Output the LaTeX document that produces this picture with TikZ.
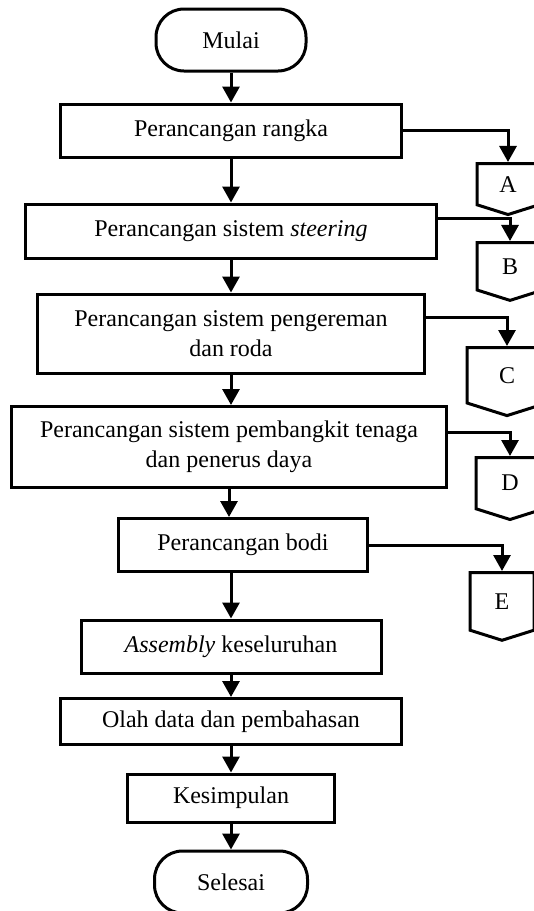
\documentclass[tikz,border=0pt]{standalone}
\usepackage{fontspec}
\setmainfont{Liberation Serif}
\usetikzlibrary{arrows.meta,shapes.symbols,calc}
\begin{document}
\begin{tikzpicture}[x=0.5pt,y=-0.5pt,line width=1.5pt,
  font=\fontsize{12}{15}\selectfont,
  proc/.style={draw,rectangle,inner sep=0pt,align=center},
  term/.style={draw,rectangle,rounded corners=14pt,inner sep=0pt,
    minimum width=75pt,minimum height=31pt},
  conn/.style={draw,signal,signal to=south,signal from=nowhere,
    signal pointer angle=145,inner sep=0pt,anchor=north},
  arr/.style={-{Triangle[width=8.5pt,length=8pt]}}]
  \useasboundingbox (0,0) rectangle (534,911);

  % main flow
  \node[term] (mulai) at (231,40) {Mulai};
  \node[proc,minimum width=170.5pt,minimum height=26.5pt] (rangka) at (231,130.5) {Perancangan rangka};
  \node[proc,minimum width=205.5pt,minimum height=27pt] (steer) at (231,231) {Perancangan sistem \textit{steering}};
  \node[proc,minimum width=193.5pt,minimum height=39.5pt] (rem) at (231,333.5) {Perancangan sistem pengereman\\dan roda};
  \node[proc,minimum width=217.5pt,minimum height=40.5pt] (tenaga) at (229,447) {Perancangan sistem pembangkit tenaga\\dan penerus daya};
  \node[proc,minimum width=124.5pt,minimum height=26.5pt] (bodi) at (243,545) {Perancangan bodi};
  \node[proc,minimum width=150pt,minimum height=26.5pt] (asm) at (231,646.5) {\textit{Assembly} keseluruhan};
  \node[proc,minimum width=170.5pt,minimum height=23pt] (olah) at (231,721.5) {Olah data dan pembahasan};
  \node[proc,minimum width=103.5pt,minimum height=24pt] (simpul) at (231,798) {Kesimpulan};
  \node[term,minimum width=76.5pt] (selesai) at (231,882) {Selesai};

  % off-page connectors
  \node[conn,minimum width=31pt,minimum height=22pt] (A) at (508,162) {A};
  \node[conn,minimum width=33pt,minimum height=25pt] (B) at (510,241) {B};
  \node[conn,minimum width=40pt,minimum height=29pt] (C) at (507,346) {C};
  \node[conn,minimum width=34pt,minimum height=27pt] (D) at (510,456) {D};
  \node[conn,minimum width=32pt,minimum height=30pt] (E) at (502,571) {E};

  \draw[arr] (mulai) -- (rangka);
  \draw[arr] (rangka) -- (steer);
  \draw[arr] (steer) -- (rem);
  \draw[arr] (rem.south) -- (rem.south |- tenaga.north);
  \draw[arr] (tenaga.south) -- (tenaga.south |- bodi.north);
  \draw[arr] (asm.north |- bodi.south) -- (asm.north);
  \draw[arr] (asm) -- (olah);
  \draw[arr] (olah) -- (simpul);
  \draw[arr] (simpul) -- (selesai);

  \draw[arr] (rangka.east) -| (A);
  \draw[arr] ($(steer.east)+(0,-13)$) -| (B);
  \draw[arr] ($(rem.east)+(0,-16)$) -| (C);
  \draw[arr] ($(tenaga.east)+(0,-15)$) -| (D);
  \draw[arr] (bodi.east) -| (E);
\end{tikzpicture}
\end{document}
